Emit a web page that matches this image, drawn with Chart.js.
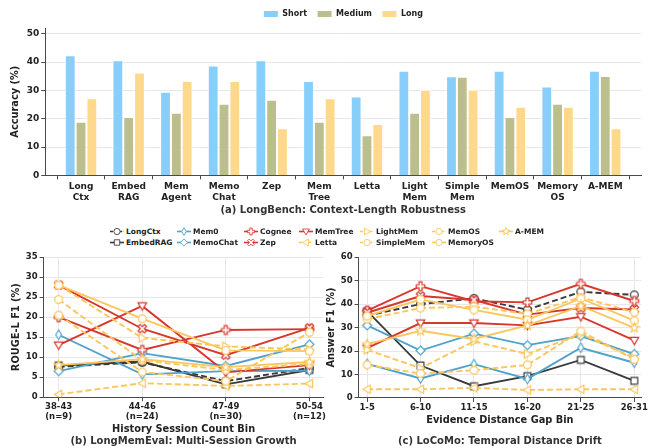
<!DOCTYPE html>
<html><head><meta charset="utf-8">
<script src="https://cdn.jsdelivr.net/npm/chart.js@4.4.1/dist/chart.umd.min.js"></script>
<style>
html,body{margin:0;padding:0;background:#fff;}
body{width:649px;height:448px;position:relative;overflow:hidden;font-family:"DejaVu Sans",sans-serif;}
canvas.chart{position:absolute;}
.li{position:absolute;height:11px;display:flex;align-items:center;font:bold 7.5px "DejaVu Sans",sans-serif;color:#222;white-space:nowrap;}
.li canvas{margin-right:2px;}
</style></head><body>
<canvas class="chart" id="ca" width="649" height="219" style="left:0;top:0"></canvas>
<canvas class="chart" id="cb" width="330" height="198" style="left:0;top:250px"></canvas>
<canvas class="chart" id="cc" width="329" height="198" style="left:320px;top:250px"></canvas>
<div id="legend"></div>
<script>
// ---- LongBench accuracy by context length ----
const lbCategories = [["Long","Ctx"],["Embed","RAG"],["Mem","Agent"],["Memo","Chat"],"Zep",["Mem","Tree"],"Letta",["Light","Mem"],["Simple","Mem"],"MemOS",["Memory","OS"],"A-MEM"];
const lbShort  = [42.4,40.6,29.5,38.8,40.6,33.3,27.8,36.9,35.0,36.9,31.4,36.9];
const lbMedium = [18.9,20.6,22.1,25.3,26.7,18.9,14.2,22.1,34.8,20.6,25.3,35.1];
const lbLong   = [27.2,36.3,33.3,33.3,16.6,27.2,18.1,30.2,30.2,24.2,24.2,16.6];
const lbTicks  = [0,10,20,30,40,50];

// ---- method names (shared by the two line panels) ----
const methodNames = ['LongCtx','EmbedRAG','Mem0','MemoChat','Cognee','Zep','MemTree','Letta','LightMem','SimpleMem','MemOS','MemoryOS','A-MEM'];

// ---- LongMemEval ROUGE-L F1 per history-session bin (rows follow methodNames) ----
const lmeBins = [["38-43","(n=9)"],["44-46","(n=24)"],["47-49","(n=30)"],["50-54","(n=12)"]];
const lmeF1 = [
  [7.6, 8.7, 4.0, 7.3],    // LongCtx
  [7.9, 8.9, 3.2, 6.8],    // EmbedRAG
  [15.6, 5.7, 6.5, 6.6],   // Mem0
  [6.5, 11.0, 7.8, 13.2],  // MemoChat
  [20.0, 11.8, 16.8, 17.0],// Cognee
  [28.0, 17.1, 10.5, 17.3],// Zep
  [13.0, 22.8, 6.2, 8.0],  // MemTree
  [0.7, 3.5, 2.8, 3.4],    // Letta
  [28.0, 14.8, 12.7, 11.9],// LightMem
  [20.5, 6.3, 4.0, 16.2],  // SimpleMem
  [24.4, 9.2, 6.8, 8.3],   // MemOS
  [28.0, 19.6, 11.7, 11.5],// MemoryOS
  [8.0, 9.5, 7.5, 8.8]     // A-MEM
];

// ---- LoCoMo answer F1 per evidence-distance bin (rows follow methodNames) ----
const locomoBins = ["1-5","6-10","11-15","16-20","21-25","26-31"];
const locomoF1 = [
  [35.0, 40.0, 42.4, 37.6, 45.2, 43.9], // LongCtx
  [37.0, 13.8, 5.0, 9.3, 16.2, 7.3],    // EmbedRAG
  [14.5, 8.3, 14.4, 8.1, 21.4, 15.0],   // Mem0
  [30.9, 20.2, 27.4, 22.5, 26.4, 18.7], // MemoChat
  [37.2, 47.6, 41.2, 40.7, 48.6, 41.3], // Cognee
  [36.3, 43.4, 41.7, 35.5, 38.3, 37.7], // Zep
  [21.2, 31.9, 31.9, 30.9, 34.6, 24.5], // MemTree
  [3.7, 3.7, 4.3, 3.4, 3.7, 3.7],       // Letta
  [20.5, 12.7, 24.1, 18.7, 27.2, 17.0], // LightMem
  [14.1, 10.4, 11.8, 14.1, 28.5, 16.4], // SimpleMem
  [33.6, 38.3, 38.9, 35.8, 42.9, 36.5], // MemOS
  [34.9, 42.0, 37.5, 33.3, 42.4, 32.9], // MemoryOS
  [22.9, 28.6, 25.1, 30.9, 39.2, 29.9]  // A-MEM
];

// ---- styling ----
const DARK = '#3a3a3a', BLUE = '#4ea2cb', RED = '#d8372c', GOLD = '#fbc65c';
const methodStyle = [
  {c: DARK, dash: true,  m: 'circle'},
  {c: DARK, dash: false, m: 'square'},
  {c: BLUE, dash: false, m: 'thin'},
  {c: BLUE, dash: false, m: 'diamond'},
  {c: RED,  dash: false, m: 'plus'},
  {c: RED,  dash: false, m: 'x'},
  {c: RED,  dash: false, m: 'down'},
  {c: GOLD, dash: true,  m: 'left'},
  {c: GOLD, dash: true,  m: 'right'},
  {c: GOLD, dash: true,  m: 'circle'},
  {c: GOLD, dash: true,  m: 'circle'},
  {c: GOLD, dash: false, m: 'circle'},
  {c: GOLD, dash: false, m: 'star'}
];
const FONT = '"DejaVu Sans", sans-serif';
Chart.defaults.font.family = FONT;
const TXT = '#222', GRID = '#e6e6ec', AXIS = '#4a4a4a';

// hollow marker glyph
function drawShape(g, shape, cx, cy) {
  const poly = pts => { g.moveTo(cx + pts[0][0], cy + pts[0][1]); for (let i = 1; i < pts.length; i++) g.lineTo(cx + pts[i][0], cy + pts[i][1]); g.closePath(); };
  const rot = (pts, a) => pts.map(([x, y]) => [x * Math.cos(a) - y * Math.sin(a), x * Math.sin(a) + y * Math.cos(a)]);
  g.beginPath();
  switch (shape) {
    case 'circle': g.arc(cx, cy, 3.9, 0, Math.PI * 2); break;
    case 'square': g.rect(cx - 3.4, cy - 3.4, 6.8, 6.8); break;
    case 'diamond': poly([[0,-4.5],[4.5,0],[0,4.5],[-4.5,0]]); break;
    case 'thin': poly([[0,-4.7],[2.9,0],[0,4.7],[-2.9,0]]); break;
    case 'down': poly([[0,4.3],[-4.3,-3.1],[4.3,-3.1]]); break;
    case 'right': poly([[4.3,0],[-3.1,-4.3],[-3.1,4.3]]); break;
    case 'left': poly([[-4.3,0],[3.1,-4.3],[3.1,4.3]]); break;
    case 'plus': { const a = 1.5, b = 4.3; poly([[-a,-b],[a,-b],[a,-a],[b,-a],[b,a],[a,a],[a,b],[-a,b],[-a,a],[-b,a],[-b,-a],[-a,-a]]); break; }
    case 'x': { const a = 1.4, b = 4.6; poly(rot([[-a,-b],[a,-b],[a,-a],[b,-a],[b,a],[a,a],[a,b],[-a,b],[-a,a],[-b,a],[-b,-a],[-a,-a]], Math.PI / 4)); break; }
    case 'star': { const pts = []; for (let i = 0; i < 10; i++) { const r = i % 2 ? 2.1 : 5.0; const a = -Math.PI / 2 + i * Math.PI / 5; pts.push([r * Math.cos(a), r * Math.sin(a)]); } poly(pts); break; }
  }
  g.fill(); g.stroke();
}
function markerCanvas(shape, color) {
  const s = 13, cv = document.createElement('canvas');
  cv.width = s; cv.height = s;
  const g = cv.getContext('2d');
  g.fillStyle = '#fff'; g.strokeStyle = color; g.lineWidth = 1.2;
  drawShape(g, shape, s / 2, s / 2);
  return cv;
}
const markers = methodStyle.map(st => markerCanvas(st.m, st.c));

// ---- (a) grouped bars ----
const barSeries = [
  {label: 'Short', data: lbShort, color: '#87cefa'},
  {label: 'Medium', data: lbMedium, color: '#bcbe8c'},
  {label: 'Long', data: lbLong, color: '#fed98b'}
];
new Chart(document.getElementById('ca'), {
  type: 'bar',
  data: {
    datasets: barSeries.map(s => ({
      label: s.label,
      data: s.data.map((v, i) => ({x: i, y: v})),
      backgroundColor: s.color, borderColor: '#ffffff', borderWidth: 1,
      categoryPercentage: 0.68, barPercentage: 1
    }))
  },
  options: {
    responsive: false, animation: false,
    layout: {padding: {left: 10, right: 8, top: 0, bottom: 0}},
    scales: {
      x: {
        type: 'linear', offset: false, min: -0.75, max: lbCategories.length - 0.25,
        afterBuildTicks: ax => { ax.ticks = lbCategories.map((_, i) => ({value: i})); },
        ticks: {autoSkip: false, maxRotation: 0, padding: 2, color: TXT, font: {size: 9, weight: 'bold', lineHeight: 1.2}, callback: v => lbCategories[v]},
        grid: {drawOnChartArea: false, tickLength: 4, tickColor: AXIS},
        border: {color: AXIS, width: 1}
      },
      y: {
        min: 0, max: 52,
        afterBuildTicks: ax => { ax.ticks = lbTicks.map(v => ({value: v})); },
        ticks: {padding: 2, color: TXT, font: {size: 9, weight: 'bold'}},
        grid: {color: GRID, tickColor: AXIS, tickLength: 4},
        border: {color: AXIS, width: 1},
        title: {display: true, text: 'Accuracy (%)', color: TXT, font: {size: 9.8, weight: 'bold'}, padding: {top: 0, bottom: 3}}
      }
    },
    plugins: {
      tooltip: {enabled: false},
      legend: {position: 'top', fullSize: false, labels: {boxWidth: 15, boxHeight: 7, padding: 10, color: TXT, font: {size: 8, weight: 'bold'}}},
      title: {display: true, position: 'bottom', fullSize: false, text: '(a) LongBench: Context-Length Robustness', color: '#333', font: {size: 10, weight: 'bold', lineHeight: 1.0}, padding: {top: 0, bottom: 4}}
    }
  }
});

// ---- (b), (c) line panels ----
function linePanel(id, bins, values, yMax, yStep, yTitle, xTitle, caption, xPad, pad, xTitlePad) {
  return new Chart(document.getElementById(id), {
    type: 'line',
    data: {
      datasets: values.map((row, k) => ({
        label: methodNames[k],
        data: row.map((v, i) => ({x: i, y: v})),
        borderColor: methodStyle[k].c, backgroundColor: methodStyle[k].c,
        borderWidth: 1.9, borderDash: methodStyle[k].dash ? [6, 3] : [],
        pointStyle: markers[k], pointRadius: 4.5, pointHoverRadius: 4.5,
        tension: 0, order: values.length - k
      }))
    },
    options: {
      responsive: false, animation: false,
      layout: {padding: pad},
      scales: {
        x: {
          type: 'linear', min: -xPad[0], max: bins.length - 1 + xPad[1],
          afterBuildTicks: ax => { ax.ticks = bins.map((_, i) => ({value: i})); },
          ticks: {autoSkip: false, maxRotation: 0, padding: 1, color: TXT, font: {size: 8.5, weight: 'bold', lineHeight: 1.15}, callback: v => bins[v]},
          grid: {color: GRID, tickColor: AXIS, tickLength: 4},
          border: {color: AXIS, width: 1},
          title: {display: true, text: xTitle, color: TXT, font: {size: 9.8, weight: 'bold', lineHeight: 1.15}, padding: xTitlePad}
        },
        y: {
          min: 0, max: yMax,
          ticks: {stepSize: yStep, padding: 2, color: TXT, font: {size: 8.5, weight: 'bold'}},
          grid: {color: GRID, tickColor: AXIS, tickLength: 4},
          border: {color: AXIS, width: 1},
          title: {display: true, text: yTitle, color: TXT, font: {size: 9.8, weight: 'bold'}, padding: {top: 0, bottom: 1}}
        }
      },
      plugins: {
        tooltip: {enabled: false},
        legend: {display: false},
        title: {display: true, position: 'bottom', fullSize: false, text: caption, color: '#333', font: {size: 10, weight: 'bold', lineHeight: 1.2}, padding: {top: 0, bottom: 1}}
      }
    }
  });
}
linePanel('cb', lmeBins, lmeF1, 35, 5, 'ROUGE-L F1 (%)', 'History Session Count Bin', '(b) LongMemEval: Multi-Session Growth', [0.18, 0.17], {left: 11, right: 4, top: 4, bottom: 0}, {top: 1, bottom: 0});
linePanel('cc', locomoBins, locomoF1, 60, 10, 'Answer F1 (%)', 'Evidence Distance Gap Bin', '(c) LoCoMo: Temporal Distance Drift', [0.16, 0.13], {left: 6, right: 4, top: 4, bottom: 0}, {top: 1, bottom: 9});

// ---- shared legend for the line panels (two rows, filled column by column) ----
const legendCols = [110, 177, 244, 299, 360, 432, 499];
const legendRows = [226, 237];
const legendBox = document.getElementById('legend');
methodNames.forEach((name, k) => {
  const col = Math.floor(k / 2), row = k % 2;
  const item = document.createElement('div');
  item.className = 'li';
  item.style.left = legendCols[col] + 'px';
  item.style.top = legendRows[row] + 'px';
  const cv = document.createElement('canvas');
  cv.width = 14; cv.height = 11;
  const g = cv.getContext('2d');
  g.strokeStyle = methodStyle[k].c; g.lineWidth = 1.6;
  g.setLineDash(methodStyle[k].dash ? [3, 1.6] : []);
  g.beginPath(); g.moveTo(0, 5.5); g.lineTo(14, 5.5); g.stroke();
  g.setLineDash([]);
  g.fillStyle = '#fff'; g.lineWidth = 1.1;
  g.save(); g.translate(7, 5.5); g.scale(0.8, 0.8); drawShape(g, methodStyle[k].m, 0, 0); g.restore();
  item.appendChild(cv);
  const t = document.createElement('span');
  t.textContent = name;
  item.appendChild(t);
  legendBox.appendChild(item);
});
</script></body></html>
